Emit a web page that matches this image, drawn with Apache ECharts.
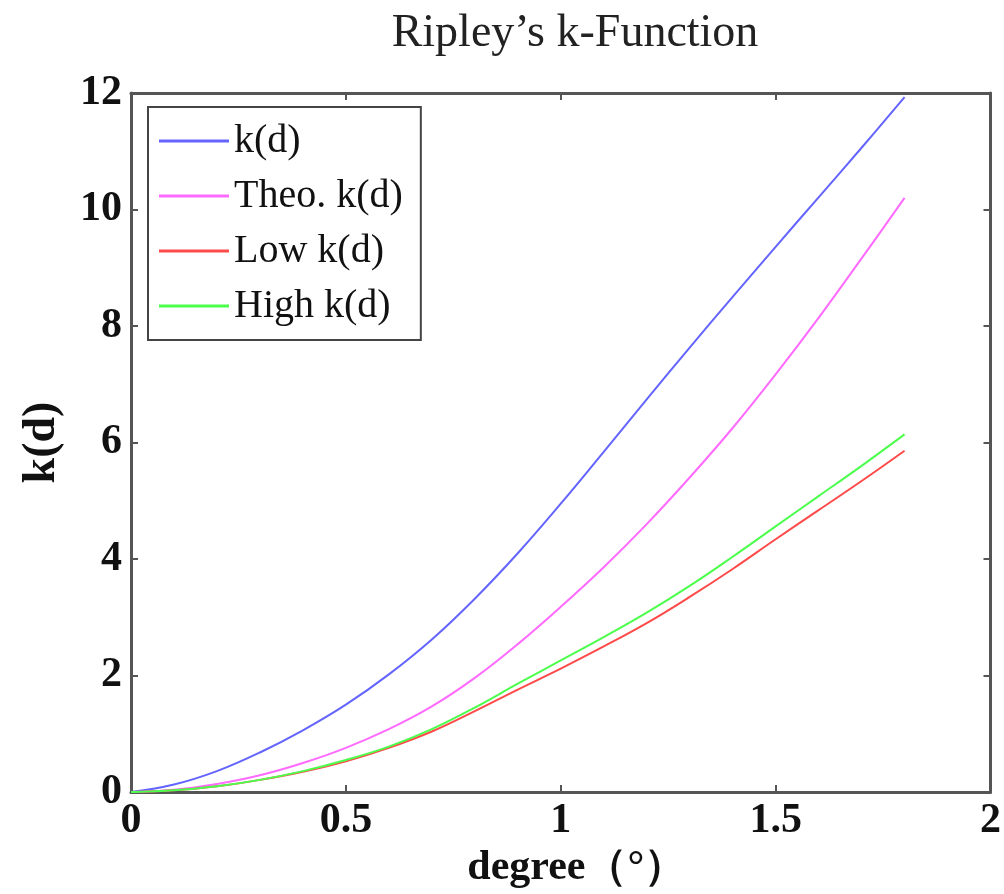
<!DOCTYPE html>
<html>
<head>
<meta charset="utf-8">
<script src="https://cdn.jsdelivr.net/npm/echarts@6/dist/echarts.min.js"></script>
<style>html,body{margin:0;padding:0;background:#fff}#c{width:1004px;height:894px}</style>
</head>
<body>
<div id="c"></div>
<script>
const titleText = "Ripley\u2019s k-Function";
const xName = "degree\uff08\u00b0\uff09";
const yName = "k(d)";
const seriesNames = ["k(d)", "Theo. k(d)", "Low k(d)", "High k(d)"];
const degrees = [0, 0.1, 0.2, 0.3, 0.4, 0.5, 0.6, 0.7, 0.8, 0.9, 1.0, 1.1, 1.2, 1.3, 1.4, 1.5, 1.6, 1.7, 1.8];
const kd   = [0, 0.13, 0.36, 0.68, 1.06, 1.5, 2.02, 2.62, 3.32, 4.1, 4.95, 5.84, 6.74, 7.63, 8.5, 9.36, 10.21, 11.06, 11.93];
const theo = [0, 0.04, 0.14, 0.29, 0.5, 0.76, 1.08, 1.47, 1.96, 2.54, 3.18, 3.86, 4.6, 5.4, 6.25, 7.17, 8.14, 9.16, 10.2];
const low  = [0, 0.03, 0.1, 0.21, 0.35, 0.53, 0.76, 1.04, 1.39, 1.76, 2.12, 2.5, 2.9, 3.35, 3.83, 4.34, 4.84, 5.34, 5.86];
const high = [0, 0.03, 0.1, 0.21, 0.36, 0.55, 0.78, 1.08, 1.45, 1.86, 2.26, 2.66, 3.08, 3.54, 4.04, 4.56, 5.08, 5.6, 6.14];
const colors = ["#6464ff", "#ff6aff", "#ff4a4a", "#4cff4c"];

const serif = "'Liberation Serif', 'Times New Roman', serif";
const axisColor = "#555";
const chart = echarts.init(document.getElementById('c'));
const pairs = arr => degrees.map((d, i) => [d, arr[i]]);
const allData = [kd, theo, low, high];

const baseX = {type: 'value', min: 0, max: 2, interval: 0.5, gridIndex: 0,
  splitLine: {show: false},
  axisLine: {show: true, onZero: false, lineStyle: {color: axisColor, width: 3}},
  axisTick: {show: true, inside: true, length: 7, lineStyle: {color: axisColor, width: 2}}};
const baseY = {type: 'value', min: 0, max: 12, interval: 2, gridIndex: 0,
  splitLine: {show: false},
  axisLine: {show: true, onZero: false, lineStyle: {color: axisColor, width: 3}},
  axisTick: {show: true, inside: true, length: 7, lineStyle: {color: axisColor, width: 2}}};

chart.setOption({
  backgroundColor: '#fff',
  animation: false,
  title: {text: titleText, left: 570, top: 6, textAlign: 'center',
    textStyle: {fontFamily: serif, fontSize: 46, fontWeight: 'normal', color: '#222'}},
  grid: {left: 131, right: 11, top: 93, bottom: 93, containLabel: false},
  legend: {
    left: 148, top: 107, orient: 'vertical',
    data: seriesNames.map(n => ({name: n, icon: 'rect'})),
    backgroundColor: '#fff', borderColor: '#444', borderWidth: 2,
    padding: [14, 18, 14, 11],
    itemWidth: 70, itemHeight: 3, itemGap: 15,
    textStyle: {fontFamily: serif, fontSize: 40, color: '#111', lineHeight: 40}
  },
  xAxis: [
    Object.assign({}, baseX, {position: 'bottom', name: xName, nameLocation: 'middle', nameGap: 52,
      nameTextStyle: {fontFamily: serif, fontSize: 42, fontWeight: 'bold', color: '#111', padding: [0, 0, 0, 32]},
      axisLabel: {fontFamily: serif, fontSize: 42, fontWeight: 'bold', color: '#111', margin: 8}}),
    Object.assign({}, baseX, {position: 'top', axisLabel: {show: false}})
  ],
  yAxis: [
    Object.assign({}, baseY, {position: 'left', name: yName, nameLocation: 'middle', nameGap: 66,
      nameTextStyle: {fontFamily: serif, fontSize: 46, fontWeight: 'bold', color: '#111'},
      axisLabel: {fontFamily: serif, fontSize: 42, fontWeight: 'bold', color: '#111', margin: 9}}),
    Object.assign({}, baseY, {position: 'right', axisLabel: {show: false}})
  ],
  series: seriesNames.map((n, i) => ({
    name: n, type: 'line', xAxisIndex: 0, yAxisIndex: 0,
    data: pairs(allData[i]), symbol: 'none', showSymbol: false, smooth: 0.4,
    lineStyle: {color: colors[i], width: 2}, itemStyle: {color: colors[i]}, z: 2
  }))
});
</script>
</body>
</html>
